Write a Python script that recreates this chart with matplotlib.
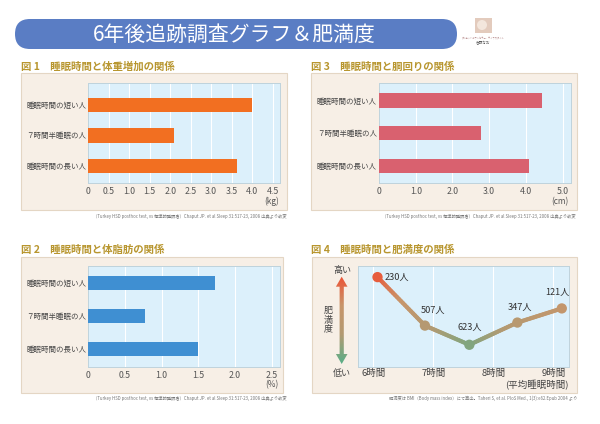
import numpy as np
import matplotlib
matplotlib.use("Agg")
import matplotlib.pyplot as plt
from matplotlib.patches import FancyBboxPatch, Rectangle, Polygon, Circle
from matplotlib.collections import LineCollection
from matplotlib.colors import LinearSegmentedColormap, Normalize

plt.rcParams['font.family'] = ['Noto Sans CJK JP', 'DejaVu Sans']

# ---------------------------------------------------------------- data
title = "6年後追跡調査グラフ＆肥満度"
groups = ["睡眠時間の短い人", "７時間半睡眠の人", "睡眠時間の長い人"]

weight_gain = [4.0, 2.1, 3.63]      # 図1 (kg)
body_fat = [1.73, 0.78, 1.5]        # 図2 (%)
waist = [4.44, 2.78, 4.09]          # 図3 (cm)

sleep_hours = [6.07, 6.86, 7.6, 8.4, 9.14]   # 図4 平均睡眠時間
obesity = [8.9, 4.1, 2.2, 4.4, 5.8]          # 図4 肥満度 (相対値)
people = ["230人", "507人", "623人", "347人", "121人"]
hour_ticks = [6, 7, 8, 9]
hour_labels = ["6時間", "7時間", "8時間", "9時間"]

foot_chaput = "（Turkey HSD posthoc test, vs 標準的睡眠者）Chaput JP. et al Sleep 31:517-23, 2008 出典より改変"
foot_taheri = "肥満度は BMI（Body mass index）にて算出。Taheri S, et al. PloS Med., 1(3):e62.Epub 2004 より"

# ---------------------------------------------------------------- layout helpers
W, H = 600, 424
fig = plt.figure(figsize=(W / 100, H / 100), dpi=100)
fig.patch.set_facecolor("white")


def px(x0, y0, x1, y1):
    return [x0 / W, 1 - y1 / H, (x1 - x0) / W, (y1 - y0) / H]


bg = fig.add_axes([0, 0, 1, 1], zorder=0)
bg.set_xlim(0, W)
bg.set_ylim(H, 0)
bg.axis("off")

HEAD = "#b8962f"
BOX = "#f7efe6"
BOX_EDGE = "#e4d6c4"
AX_BG = "#dcf0fb"
AX_EDGE = "#bfd3dc"

# banner
bg.add_patch(FancyBboxPatch((15, 19), 442, 30, boxstyle="round,pad=0,rounding_size=15",
                            facecolor="#5a7dc4", edgecolor="none"))
bg.text(234, 34.5, title, color="white", fontsize=15, ha="center", va="center")

# small logo
bg.add_patch(Rectangle((475, 18), 17, 15, facecolor="#e3cbbd", edgecolor="none"))
bg.add_patch(Circle((482, 25), 5, facecolor="#f3e6dc", edgecolor="none"))
bg.text(483.5, 38, "ダイエットカウンセラー・ライフスタイル", fontsize=1.6, color="#b08080", ha="center", va="center")
bg.text(483.5, 43.5, "吉野なお", fontsize=2.6, color="#555555", ha="center", va="center")


def bar_panel(box, axr, heading, values, color, xmax, ticks, ticklabels,
              ylim, bar_h, unit, unit_xy, foot_xy):
    x0, y0, x1, y1 = box
    bg.add_patch(Rectangle((x0, y0), x1 - x0, y1 - y0, facecolor=BOX,
                           edgecolor=BOX_EDGE, linewidth=0.8))
    bg.text(x0 + 0.5, y0 - 6.5, heading, color=HEAD, fontsize=7.5,
            fontweight="bold", ha="left", va="center")
    ax = fig.add_axes(px(*axr), zorder=2)
    ax.set_facecolor(AX_BG)
    ax.barh(range(len(values)), values, height=bar_h, color=color, zorder=3)
    ax.set_xlim(0, xmax)
    ax.set_ylim(*ylim)
    ax.set_yticks(range(len(groups)))
    ax.set_yticklabels(groups, fontsize=5.4, color="#444444")
    ax.set_xticks(ticks)
    ax.set_xticklabels(ticklabels, fontsize=6.3, color="#555555")
    ax.tick_params(length=0, pad=1.5, axis="y")
    ax.tick_params(length=0, pad=3, axis="x")
    ax.grid(axis="x", color="white", linewidth=0.8, zorder=1)
    ax.set_axisbelow(True)
    for s in ax.spines.values():
        s.set_color(AX_EDGE)
        s.set_linewidth(0.7)
    bg.text(unit_xy[0], unit_xy[1], unit, fontsize=6, color="#555555",
            ha="center", va="center")
    bg.text(foot_xy[0], foot_xy[1], foot_chaput, fontsize=3.1, color="#777777",
            ha="right", va="center")
    return ax


t1 = np.arange(0, 4.51, 0.5)
bar_panel((20.7, 73, 287.3, 210), (88.3, 83, 280, 183),
          "図 1　睡眠時間と体重増加の関係", weight_gain, "#f26f21", 4.68,
          t1, ["0"] + [f"{v:.1f}" for v in t1[1:]], (2.56, -0.72), 0.48,
          "(kg)", (272, 201.5), (287, 216.5))

t2 = np.arange(0, 2.51, 0.5)
bar_panel((20.7, 256.5, 283, 393.3), (88.3, 265.5, 280, 366.5),
          "図 2　睡眠時間と体脂肪の関係", body_fat, "#3f8fd2", 2.615,
          t2, ["0"] + [f"{v:.1f}" for v in t2[1:]], (2.53, -0.54), 0.42,
          "(%)", (271.7, 385), (287, 398))

t3 = np.arange(0, 5.01, 1.0)
bar_panel((310.7, 73, 576.7, 210), (379, 83.3, 570.7, 183.3),
          "図 3　睡眠時間と胴回りの関係", waist, "#d9616f", 5.22,
          t3, ["0"] + [f"{v:.1f}" for v in t3[1:]], (2.53, -0.53), 0.44,
          "(cm)", (560, 201.5), (576, 216.5))

# ---------------------------------------------------------------- 図4
bg.add_patch(Rectangle((312, 256.5), 265, 136.8, facecolor=BOX,
                       edgecolor=BOX_EDGE, linewidth=0.8))
bg.text(311, 250, "図 4　睡眠時間と肥満度の関係", color=HEAD, fontsize=7.5,
        fontweight="bold", ha="left", va="center")

cmap = LinearSegmentedColormap.from_list("obes", ["#5aae88", "#b39a72", "#c8956a", "#ec5436"])
norm = Normalize(1.0, 9.3)

ax4 = fig.add_axes(px(357.7, 266, 569, 367), zorder=2)
ax4.set_facecolor(AX_BG)
ax4.set_xlim(5.74, 9.26)
ax4.set_ylim(0, 10)
ax4.set_xticks(hour_ticks)
ax4.set_xticklabels(hour_labels, fontsize=6.8, color="#444444")
ax4.set_yticks([])
ax4.tick_params(length=0, pad=1.5)
ax4.grid(axis="x", color="white", linewidth=0.8)
ax4.set_axisbelow(True)
for s in ax4.spines.values():
    s.set_color(AX_EDGE)
    s.set_linewidth(0.7)

# gradient line: each segment split finely only for colouring
segs, cols = [], []
for i in range(len(sleep_hours) - 1):
    xs = np.linspace(sleep_hours[i], sleep_hours[i + 1], 25)
    ys = np.linspace(obesity[i], obesity[i + 1], 25)
    for j in range(24):
        segs.append([(xs[j], ys[j]), (xs[j + 1], ys[j + 1])])
        cols.append(cmap(norm((ys[j] + ys[j + 1]) / 2)))
ax4.add_collection(LineCollection(segs, colors=cols, linewidths=3,
                                  capstyle="round", zorder=3))
ax4.scatter(sleep_hours, obesity, s=55, c=[cmap(norm(v)) for v in obesity],
            zorder=4, linewidths=0)

offsets = [(5, 0, "left", "center"), (6, 8, "center", "bottom"),
           (0.5, 9, "center", "bottom"), (2, 8, "center", "bottom"),
           (-3, 8, "center", "bottom")]
for x, y, lab, (dx, dy, ha, va) in zip(sleep_hours, obesity, people, offsets):
    ax4.annotate(lab, (x, y), xytext=(dx, dy), textcoords="offset points",
                 fontsize=6.6, color="#333333", ha=ha, va=va, zorder=5)

# vertical gradient arrow
cx, top, bot = 341.7, 276.7, 364
hw, hl, sw = 5.8, 10, 2.1
arrow = Polygon([(cx, top), (cx + hw, top + hl), (cx + sw, top + hl),
                 (cx + sw, bot - hl), (cx + hw, bot - hl), (cx, bot),
                 (cx - hw, bot - hl), (cx - sw, bot - hl), (cx - sw, top + hl),
                 (cx - hw, top + hl)], closed=True, facecolor="none",
                edgecolor="none", transform=bg.transData)
bg.add_patch(arrow)
grad = np.linspace(9.3, 1.0, 100).reshape(-1, 1)
im = bg.imshow(grad, cmap=cmap, norm=norm, extent=(cx - 7, cx + 7, bot, top),
               origin="upper", aspect="auto", zorder=1)
im.set_clip_path(arrow)
bg.set_xlim(0, W)
bg.set_ylim(H, 0)

bg.text(342.7, 270, "高い", fontsize=6.5, color="#444444", ha="center", va="center")
bg.text(342.3, 373.3, "低い", fontsize=6.5, color="#444444", ha="center", va="center")
bg.text(328, 320, "肥\n満\n度", fontsize=6.5, color="#444444", ha="center",
        va="center", linespacing=1.05)
bg.text(537, 385, "(平均睡眠時間)", fontsize=6.8, color="#444444", ha="center", va="center")
bg.text(577, 398, foot_taheri, fontsize=3.1, color="#777777", ha="right", va="center")

fig.savefig("out.png", dpi=100)
